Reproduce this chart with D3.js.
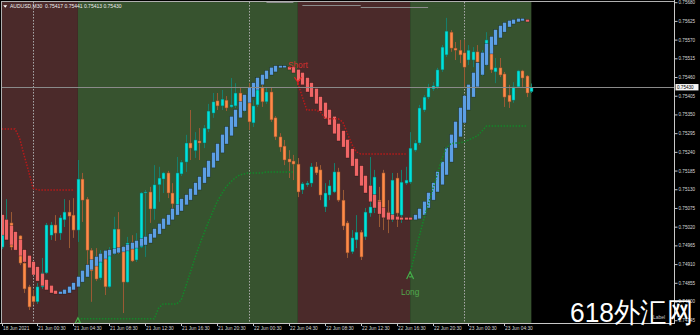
<!DOCTYPE html>
<html>
<head>
<meta charset="utf-8">
<title>AUDUSD M30</title>
<script src="https://cdn.jsdelivr.net/npm/d3@7"></script>
<style>
  html, body { margin: 0; padding: 0; background: #000; }
  svg { display: block; }
  text { font-family: "Liberation Sans", Arial, sans-serif; }
</style>
</head>
<body>
<script>
// bar index 0 = 21 Jun 00:00, M30 bars, first visible bar is 18 Jun 20:30
const firstBar = -7;

const open = [
  0.74960, 0.75025, 0.75031, 0.74981, 0.74993, 0.74913, 0.74843, 0.74816, 0.74799, 0.74843,
  0.74884, 0.74995, 0.75025, 0.75001, 0.75040, 0.75063, 0.75054, 0.75010, 0.75160, 0.75101,
  0.74951, 0.74928, 0.74869, 0.74928, 0.74843, 0.74940, 0.75013, 0.74957, 0.74857, 0.74972,
  0.74922, 0.74960, 0.75119, 0.75122, 0.75072, 0.75143, 0.75160, 0.75178, 0.75119, 0.75060,
  0.75175, 0.75210, 0.75266, 0.75243, 0.75272, 0.75266, 0.75307, 0.75354, 0.75390, 0.75375,
  0.75392, 0.75372, 0.75375, 0.75413, 0.75369, 0.75404, 0.75325, 0.75378, 0.75428, 0.75387,
  0.75416, 0.75340, 0.75284, 0.75257, 0.75219, 0.75213, 0.75204, 0.75128, 0.75143, 0.75148,
  0.75196, 0.75187, 0.75078, 0.75113, 0.75122, 0.75181, 0.75098, 0.75031, 0.74946, 0.74981,
  0.75004, 0.74990, 0.75060, 0.75075, 0.75098, 0.75178, 0.75063, 0.75040, 0.75163, 0.75054,
  0.75148, 0.75151, 0.75245, 0.75266, 0.75363, 0.75401, 0.75425, 0.75431, 0.75481, 0.75525,
  0.75592, 0.75545, 0.75539, 0.75531, 0.75510, 0.75510, 0.75534, 0.75472, 0.75501, 0.75545,
  0.75475, 0.75487, 0.75469, 0.75407, 0.75392, 0.75431, 0.75478, 0.75463, 0.75417
];
const high = [
  0.75046, 0.75101, 0.75063, 0.75001, 0.74995, 0.74928, 0.74849, 0.74834, 0.74854, 0.74928,
  0.75031, 0.75034, 0.75054, 0.75054, 0.75101, 0.75098, 0.75104, 0.75216, 0.75178, 0.75107,
  0.74957, 0.74957, 0.74951, 0.74943, 0.74960, 0.75049, 0.75063, 0.74963, 0.74990, 0.74995,
  0.75001, 0.75122, 0.75128, 0.75137, 0.75201, 0.75196, 0.75181, 0.75184, 0.75148, 0.75225,
  0.75216, 0.75290, 0.75363, 0.75298, 0.75310, 0.75319, 0.75381, 0.75413, 0.75413, 0.75422,
  0.75404, 0.75457, 0.75442, 0.75428, 0.75407, 0.75442, 0.75392, 0.75440, 0.75442, 0.75428,
  0.75428, 0.75345, 0.75295, 0.75275, 0.75245, 0.75231, 0.75222, 0.75151, 0.75154, 0.75207,
  0.75210, 0.75201, 0.75148, 0.75157, 0.75207, 0.75193, 0.75128, 0.75037, 0.75010, 0.75054,
  0.75010, 0.75075, 0.75225, 0.75187, 0.75137, 0.75187, 0.75098, 0.75178, 0.75178, 0.75187,
  0.75196, 0.75298, 0.75275, 0.75378, 0.75407, 0.75440, 0.75445, 0.75487, 0.75554, 0.75634,
  0.75598, 0.75563, 0.75569, 0.75569, 0.75554, 0.75548, 0.75554, 0.75539, 0.75592, 0.75569,
  0.75516, 0.75516, 0.75475, 0.75437, 0.75445, 0.75481, 0.75481, 0.75466, 0.75441
];
const low = [
  0.74954, 0.75016, 0.74951, 0.74951, 0.74907, 0.74825, 0.74775, 0.74790, 0.74793, 0.74837,
  0.74881, 0.74981, 0.74978, 0.74981, 0.75019, 0.74957, 0.74987, 0.74975, 0.75034, 0.74893,
  0.74799, 0.74860, 0.74863, 0.74819, 0.74840, 0.74937, 0.74940, 0.74766, 0.74854, 0.74916,
  0.74916, 0.74957, 0.74931, 0.75031, 0.75040, 0.75093, 0.75119, 0.75104, 0.75049, 0.75054,
  0.75169, 0.75181, 0.75216, 0.75222, 0.75216, 0.75251, 0.75298, 0.75340, 0.75363, 0.75363,
  0.75360, 0.75369, 0.75369, 0.75363, 0.75357, 0.75304, 0.75313, 0.75372, 0.75372, 0.75381,
  0.75328, 0.75275, 0.75240, 0.75201, 0.75163, 0.75157, 0.75107, 0.75116, 0.75137, 0.75137,
  0.75172, 0.75098, 0.75063, 0.75098, 0.75119, 0.75093, 0.75010, 0.74928, 0.74940, 0.74957,
  0.74922, 0.74981, 0.75049, 0.75060, 0.75019, 0.75010, 0.75001, 0.75034, 0.75019, 0.75031,
  0.75143, 0.75146, 0.75240, 0.75260, 0.75357, 0.75395, 0.75419, 0.75425, 0.75475, 0.75519,
  0.75534, 0.75510, 0.75501, 0.75431, 0.75495, 0.75489, 0.75495, 0.75463, 0.75492, 0.75472,
  0.75442, 0.75460, 0.75372, 0.75369, 0.75384, 0.75428, 0.75431, 0.75401, 0.75413
];
const close = [
  0.75028, 0.75031, 0.74960, 0.74993, 0.74913, 0.74837, 0.74784, 0.74799, 0.74843, 0.74884,
  0.75025, 0.75025, 0.75001, 0.75046, 0.75063, 0.75051, 0.75010, 0.75160, 0.75098, 0.74951,
  0.74890, 0.74866, 0.74931, 0.74843, 0.74946, 0.75013, 0.74946, 0.74857, 0.74972, 0.74919,
  0.74975, 0.75119, 0.75122, 0.75072, 0.75143, 0.75163, 0.75178, 0.75119, 0.75087, 0.75178,
  0.75210, 0.75266, 0.75251, 0.75275, 0.75266, 0.75310, 0.75360, 0.75387, 0.75375, 0.75395,
  0.75369, 0.75378, 0.75413, 0.75369, 0.75401, 0.75328, 0.75375, 0.75428, 0.75387, 0.75416,
  0.75334, 0.75284, 0.75254, 0.75216, 0.75210, 0.75204, 0.75122, 0.75146, 0.75148, 0.75196,
  0.75178, 0.75113, 0.75119, 0.75140, 0.75181, 0.75098, 0.75022, 0.74943, 0.74987, 0.75004,
  0.74931, 0.75063, 0.75078, 0.75166, 0.75060, 0.75049, 0.75046, 0.75157, 0.75060, 0.75151,
  0.75157, 0.75251, 0.75266, 0.75369, 0.75401, 0.75428, 0.75434, 0.75481, 0.75548, 0.75595,
  0.75545, 0.75539, 0.75525, 0.75489, 0.75539, 0.75534, 0.75504, 0.75531, 0.75569, 0.75481,
  0.75487, 0.75466, 0.75401, 0.75387, 0.75431, 0.75478, 0.75457, 0.75413, 0.75430
];

// smoothed heiken ashi bodies
const haOpen = [
  0.75054, 0.75040, 0.75022, 0.75004, 0.74981, 0.74951, 0.74934, 0.74916, 0.74901, 0.74881,
  0.74863, 0.74846, 0.74831, 0.74822, 0.74822, 0.74825, 0.74834, 0.74843, 0.74857, 0.74872,
  0.74893, 0.74904, 0.74916, 0.74925, 0.74934, 0.74940, 0.74943, 0.74946, 0.74949, 0.74954,
  0.74957, 0.74963, 0.74966, 0.74972, 0.74987, 0.74998, 0.75013, 0.75025, 0.75040, 0.75054,
  0.75066, 0.75084, 0.75098, 0.75113, 0.75128, 0.75148, 0.75166, 0.75193, 0.75213, 0.75237,
  0.75263, 0.75287, 0.75313, 0.75340, 0.75360, 0.75384, 0.75401, 0.75422, 0.75437, 0.75454,
  0.75466, 0.75475, 0.75487, 0.75488, 0.75489, 0.75489, 0.75481, 0.75472, 0.75457, 0.75442,
  0.75425, 0.75401, 0.75384, 0.75363, 0.75343, 0.75322, 0.75301, 0.75275, 0.75248, 0.75219,
  0.75198, 0.75169, 0.75140, 0.75113, 0.75093, 0.75075, 0.75060, 0.75054, 0.75049, 0.75046,
  0.75046, 0.75046, 0.75040, 0.75043, 0.75054, 0.75075, 0.75098, 0.75122, 0.75143, 0.75172,
  0.75210, 0.75251, 0.75284, 0.75325, 0.75363, 0.75401, 0.75431, 0.75466, 0.75495, 0.75528,
  0.75554, 0.75575, 0.75592, 0.75607, 0.75616, 0.75622, 0.75625, 0.75628, null
];
const haClose = [
  0.74995, 0.74981, 0.74966, 0.74951, 0.74934, 0.74916, 0.74899, 0.74878, 0.74860, 0.74846,
  0.74834, 0.74825, 0.74822, 0.74828, 0.74834, 0.74843, 0.74854, 0.74872, 0.74890, 0.74907,
  0.74922, 0.74931, 0.74940, 0.74949, 0.74951, 0.74954, 0.74957, 0.74960, 0.74966, 0.74972,
  0.74978, 0.74984, 0.74990, 0.74998, 0.75013, 0.75028, 0.75043, 0.75054, 0.75072, 0.75084,
  0.75101, 0.75113, 0.75131, 0.75148, 0.75166, 0.75193, 0.75213, 0.75237, 0.75263, 0.75290,
  0.75313, 0.75343, 0.75363, 0.75387, 0.75407, 0.75428, 0.75442, 0.75457, 0.75466, 0.75478,
  0.75487, 0.75492, 0.75492, 0.75492, 0.75481, 0.75472, 0.75448, 0.75437, 0.75416, 0.75401,
  0.75381, 0.75360, 0.75337, 0.75319, 0.75293, 0.75272, 0.75254, 0.75222, 0.75198, 0.75169,
  0.75140, 0.75119, 0.75093, 0.75075, 0.75057, 0.75046, 0.75040, 0.75040, 0.75040, 0.75040,
  0.75040, 0.75040, 0.75054, 0.75072, 0.75093, 0.75119, 0.75148, 0.75181, 0.75210, 0.75251,
  0.75290, 0.75328, 0.75369, 0.75404, 0.75437, 0.75472, 0.75501, 0.75531, 0.75557, 0.75578,
  0.75598, 0.75610, 0.75619, 0.75625, 0.75628, 0.75631, 0.75631, 0.75622, null
];

// trailing stop lines, one per regime
const stopShort1 = [0.75307, 0.75307, 0.75307, 0.75307, 0.75281, 0.75231, 0.75184, 0.75134,
  0.75128, 0.75128, 0.75128, 0.75128, 0.75128, 0.75128, 0.75128, 0.75128, 0.75128];
const stopLong1 = [
  0.74749, 0.74749, 0.74749, 0.74749, 0.74749, 0.74749, 0.74749, 0.74749, 0.74749, 0.74749,
  0.74749, 0.74749, 0.74749, 0.74749, 0.74749, 0.74749, 0.74749, 0.74749, 0.74781, 0.74793,
  0.74793, 0.74793, 0.74793, 0.74804, 0.74843, 0.74884, 0.74925, 0.74963, 0.74998, 0.75031,
  0.75063, 0.75093, 0.75116, 0.75137, 0.75151, 0.75163, 0.75172, 0.75175, 0.75178, 0.75178,
  0.75178, 0.75178, 0.75181, 0.75181, 0.75181, 0.75181, 0.75181, 0.75181, 0.75181];
const stopShort2 = [0.75442, 0.75401, 0.75363, 0.75363, 0.75363, 0.75357, 0.75340, 0.75337,
  0.75337, 0.75337, 0.75328, 0.75295, 0.75263, 0.75240, 0.75234, 0.75234, 0.75234, 0.75234,
  0.75234, 0.75234, 0.75234, 0.75234, 0.75234, 0.75234, 0.75234];
const stopLong2 = [0.74884, 0.74937, 0.74990, 0.75040, 0.75084, 0.75128, 0.75172, 0.75216,
  0.75251, 0.75263, 0.75266, 0.75266, 0.75269, 0.75275, 0.75281, 0.75287, 0.75301, 0.75316,
  0.75316, 0.75316, 0.75316, 0.75316, 0.75316, 0.75316, 0.75316, 0.75316, 0.75316];

// regimes: bar where each background band starts / ends
const regionFrom = [-8, 10, 59, 84];
const regionTo = [10, 59, 84, 111];
const regionSide = ['short', 'long', 'short', 'long'];
const stopStart = [-7, 10, 59, 84];

// entry signals
const signalBar = [10, 59, 84];
const signalSide = ['long', 'short', 'long'];

// grey level lines touching the top edge
const levelFrom = [52, 60, 73];
const levelTo = [58, 73, 88];
const levelPrice = [0.75681, 0.75672, 0.75665];

const daySeparators = [0, 48, 96];

const priceTicks = [0.75680, 0.75625, 0.75570, 0.75515, 0.75460, 0.75405, 0.75350, 0.75295, 0.75240,
  0.75185, 0.75130, 0.75075, 0.75020, 0.74965, 0.74910, 0.74855, 0.74800, 0.74745];
const timeTickBars = [-7, 1, 9, 17, 25, 33, 41, 49, 57, 65, 73, 81, 89, 97, 105];
const timeLabels = ['18 Jun 2021', '21 Jun 00:30', '21 Jun 04:30', '21 Jun 08:30', '21 Jun 12:30',
  '21 Jun 16:30', '21 Jun 20:30', '22 Jun 00:30', '22 Jun 04:30', '22 Jun 08:30', '22 Jun 12:30',
  '22 Jun 16:30', '22 Jun 20:30', '23 Jun 00:30', '23 Jun 04:30'];

const W = 700, H = 335;
const plot = { left: 2, top: 2, right: 674, bottom: 323 };

const x = d3.scaleLinear().domain([0, 96]).range([33, 464]);
const y = d3.scaleLinear().domain([0.74745, 0.75680]).range([320.2, 2.2]);
const px = b => Math.round(x(b));

const bars = open.map((o, i) => ({
  bar: firstBar + i, o: o, h: high[i], l: low[i], c: close[i], ho: haOpen[i], hc: haClose[i]
}));
const last = bars[bars.length - 1];

const svg = d3.select('body').append('svg').attr('width', W).attr('height', H);
svg.append('rect').attr('width', W).attr('height', H).attr('fill', '#000');

svg.append('defs').append('clipPath').attr('id', 'plotclip')
  .append('rect')
  .attr('x', plot.left).attr('y', plot.top)
  .attr('width', plot.right - plot.left).attr('height', plot.bottom - plot.top);

const g = svg.append('g').attr('clip-path', 'url(#plotclip)');

// background bands
g.selectAll('rect.region').data(regionSide).join('rect')
  .attr('class', 'region')
  .attr('x', (d, i) => x(regionFrom[i]))
  .attr('width', (d, i) => x(regionTo[i]) - x(regionFrom[i]))
  .attr('y', plot.top).attr('height', plot.bottom - plot.top)
  .attr('fill', d => d === 'short' ? '#4b2a2a' : '#37532f');

// day separators
g.selectAll('line.sep').data(daySeparators).join('line')
  .attr('class', 'sep')
  .attr('x1', d => px(d) + 0.5).attr('x2', d => px(d) + 0.5)
  .attr('y1', plot.top).attr('y2', plot.bottom)
  .attr('stroke', '#a8a8a8').attr('stroke-width', 1).attr('stroke-dasharray', '1.5,1.5');

// candles
const up = d => d.c >= d.o;
g.selectAll('line.wick').data(bars).join('line')
  .attr('class', 'wick')
  .attr('x1', d => px(d.bar) + 0.5).attr('x2', d => px(d.bar) + 0.5)
  .attr('y1', d => y(d.h)).attr('y2', d => y(d.l))
  .attr('stroke', d => up(d) ? '#167e6c' : '#9a5a34').attr('stroke-width', 1);

g.selectAll('rect.body').data(bars).join('rect')
  .attr('class', 'body')
  .attr('x', d => px(d.bar) - 1).attr('width', 3)
  .attr('y', d => y(Math.max(d.o, d.c)))
  .attr('height', d => Math.max(1, Math.abs(y(d.o) - y(d.c))))
  .attr('fill', d => up(d) ? '#00e2dc' : '#ff8a48')
  .attr('stroke', d => up(d) ? '#0f6e60' : '#8a4c2a').attr('stroke-width', 0.5);

// heiken ashi bars
const haBars = bars.filter(d => d.ho != null);
g.selectAll('rect.ha').data(haBars).join('rect')
  .attr('class', 'ha')
  .attr('x', d => px(d.bar) - 1.3).attr('width', 3.6)
  .attr('y', d => y(Math.max(d.ho, d.hc)) - 0.5)
  .attr('height', d => Math.max(1.6, Math.abs(y(d.ho) - y(d.hc))) + 0.5)
  .attr('fill', d => d.hc >= d.ho ? '#5c9fe4' : '#f06666')
  .attr('stroke', 'rgba(0,0,0,0.45)').attr('stroke-width', 0.6);

// stop lines
const stops = [stopShort1, stopLong1, stopShort2, stopLong2].map((vals, i) => ({
  side: regionSide[i], start: stopStart[i], values: vals
}));
stops.forEach(s => {
  const line = d3.line().x((v, j) => x(s.start + j)).y(v => y(v));
  g.append('path')
    .attr('d', line(s.values))
    .attr('fill', 'none')
    .attr('stroke', s.side === 'short' ? '#b81a1a' : '#14862a')
    .attr('stroke-width', 1.5)
    .attr('stroke-dasharray', '1.5,1.5');
});

// top level lines
g.selectAll('line.level').data(levelPrice).join('line')
  .attr('class', 'level')
  .attr('x1', (d, i) => x(levelFrom[i])).attr('x2', (d, i) => x(levelTo[i]))
  .attr('y1', d => Math.round(y(d)) + 0.5).attr('y2', d => Math.round(y(d)) + 0.5)
  .attr('stroke', '#8c8c8c').attr('stroke-width', 1);

// current price line
g.append('line')
  .attr('x1', plot.left).attr('x2', plot.right)
  .attr('y1', Math.round(y(last.c)) + 0.5).attr('y2', Math.round(y(last.c)) + 0.5)
  .attr('stroke', '#8a8a8a').attr('stroke-width', 1);

// signals
signalBar.forEach((b, i) => {
  const s = stops.find(t => t.start === b);
  const sx = x(b), sy = y(s.values[0]);
  if (signalSide[i] === 'long') {
    g.append('path')
      .attr('d', `M${sx - 3.5},${sy + 6} L${sx},${sy - 1} L${sx + 3.5},${sy + 6} M${sx - 1},${sy + 4} L${sx + 1.5},${sy + 4}`)
      .attr('fill', 'none').attr('stroke', '#45b04a').attr('stroke-width', 1.2);
    if (sy + 22 < plot.bottom) {
      g.append('text').attr('x', sx).attr('y', sy + 22)
        .attr('text-anchor', 'middle').attr('font-size', 8.3).attr('fill', '#52a84c')
        .text('Long');
    }
  } else {
    g.append('path')
      .attr('d', `M${sx - 3.5},${sy - 6} L${sx},${sy - 1} L${sx + 3.5},${sy - 6} M${sx},${sy - 1} L${sx},${sy + 2}`)
      .attr('fill', 'none').attr('stroke', '#e02424').attr('stroke-width', 1.2);
    g.append('text').attr('x', sx - 10).attr('y', sy - 15)
      .attr('font-size', 8.3).attr('fill', '#d62e2e')
      .text('Short');
  }
});

// frame
svg.append('line').attr('x1', 1).attr('x2', plot.right).attr('y1', 1.5).attr('y2', 1.5)
  .attr('stroke', '#b0b0b0');
svg.append('line').attr('x1', 1.5).attr('x2', 1.5).attr('y1', 1).attr('y2', plot.bottom)
  .attr('stroke', '#b0b0b0');
svg.append('line').attr('x1', plot.right + 0.5).attr('x2', plot.right + 0.5).attr('y1', 0).attr('y2', plot.bottom + 1)
  .attr('stroke', '#c8c8c8');
svg.append('line').attr('x1', 0).attr('x2', plot.right + 1).attr('y1', plot.bottom + 0.5).attr('y2', plot.bottom + 0.5)
  .attr('stroke', '#c8c8c8');

// price axis
const yAxis = svg.append('g')
  .attr('transform', `translate(${plot.right + 0.5},0)`)
  .call(d3.axisRight(y).tickValues(priceTicks).tickSize(3).tickPadding(1).tickFormat(d3.format('.5f')));
yAxis.select('.domain').remove();
yAxis.selectAll('line').attr('stroke', '#c8c8c8');
yAxis.selectAll('text').attr('fill', '#d8d8d8').attr('font-size', 4.6)
  .attr('font-family', '"Liberation Sans", Arial, sans-serif');

// time axis
const xAxis = svg.append('g')
  .attr('transform', `translate(0,${plot.bottom + 0.5})`)
  .call(d3.axisBottom(x).tickValues(timeTickBars).tickSize(2.5).tickPadding(1)
    .tickFormat((d, i) => timeLabels[i]));
xAxis.select('.domain').remove();
xAxis.selectAll('.tick').attr('transform', d => `translate(${px(d) + 0.5},0)`);
xAxis.selectAll('line').attr('stroke', '#c8c8c8');
xAxis.selectAll('text').attr('fill', '#d8d8d8').attr('font-size', 4.8)
  .attr('text-anchor', 'start').attr('x', 0.5)
  .attr('font-family', '"Liberation Sans", Arial, sans-serif');

// current price tag
const tagY = y(last.c);
svg.append('rect').attr('x', plot.right + 1.5).attr('y', tagY - 3.2).attr('width', 23).attr('height', 6.4)
  .attr('fill', '#f4f4f4');
svg.append('text').attr('x', plot.right + 3).attr('y', tagY + 1.7)
  .attr('font-size', 4.6).attr('fill', '#000').text(d3.format('.5f')(last.c));

// title
svg.append('path').attr('d', 'M3.2,5.2 L7.2,5.2 L5.2,7.8 Z').attr('fill', '#fff');
svg.append('text').attr('x', 10).attr('y', 7.8).attr('font-size', 5).attr('fill', '#f0f0f0')
  .attr('xml:space', 'preserve')
  .text(`AUDUSD,M30  ${d3.format('.5f')(last.o)} ${d3.format('.5f')(last.h)} ${d3.format('.5f')(last.l)} ${d3.format('.5f')(last.c)}`);

// object label and watermark
svg.append('text').attr('x', 653).attr('y', 319).attr('font-size', 5).attr('fill', '#c4c4c4').text('Label');
svg.append('text').attr('x', 570).attr('y', 322)
  .attr('font-family', '"Noto Sans CJK SC", sans-serif').attr('font-size', 28)
  .attr('fill', '#ffffff').attr('textLength', 123).attr('lengthAdjust', 'spacingAndGlyphs')
  .text('618外汇网');
</script>
</body>
</html>
